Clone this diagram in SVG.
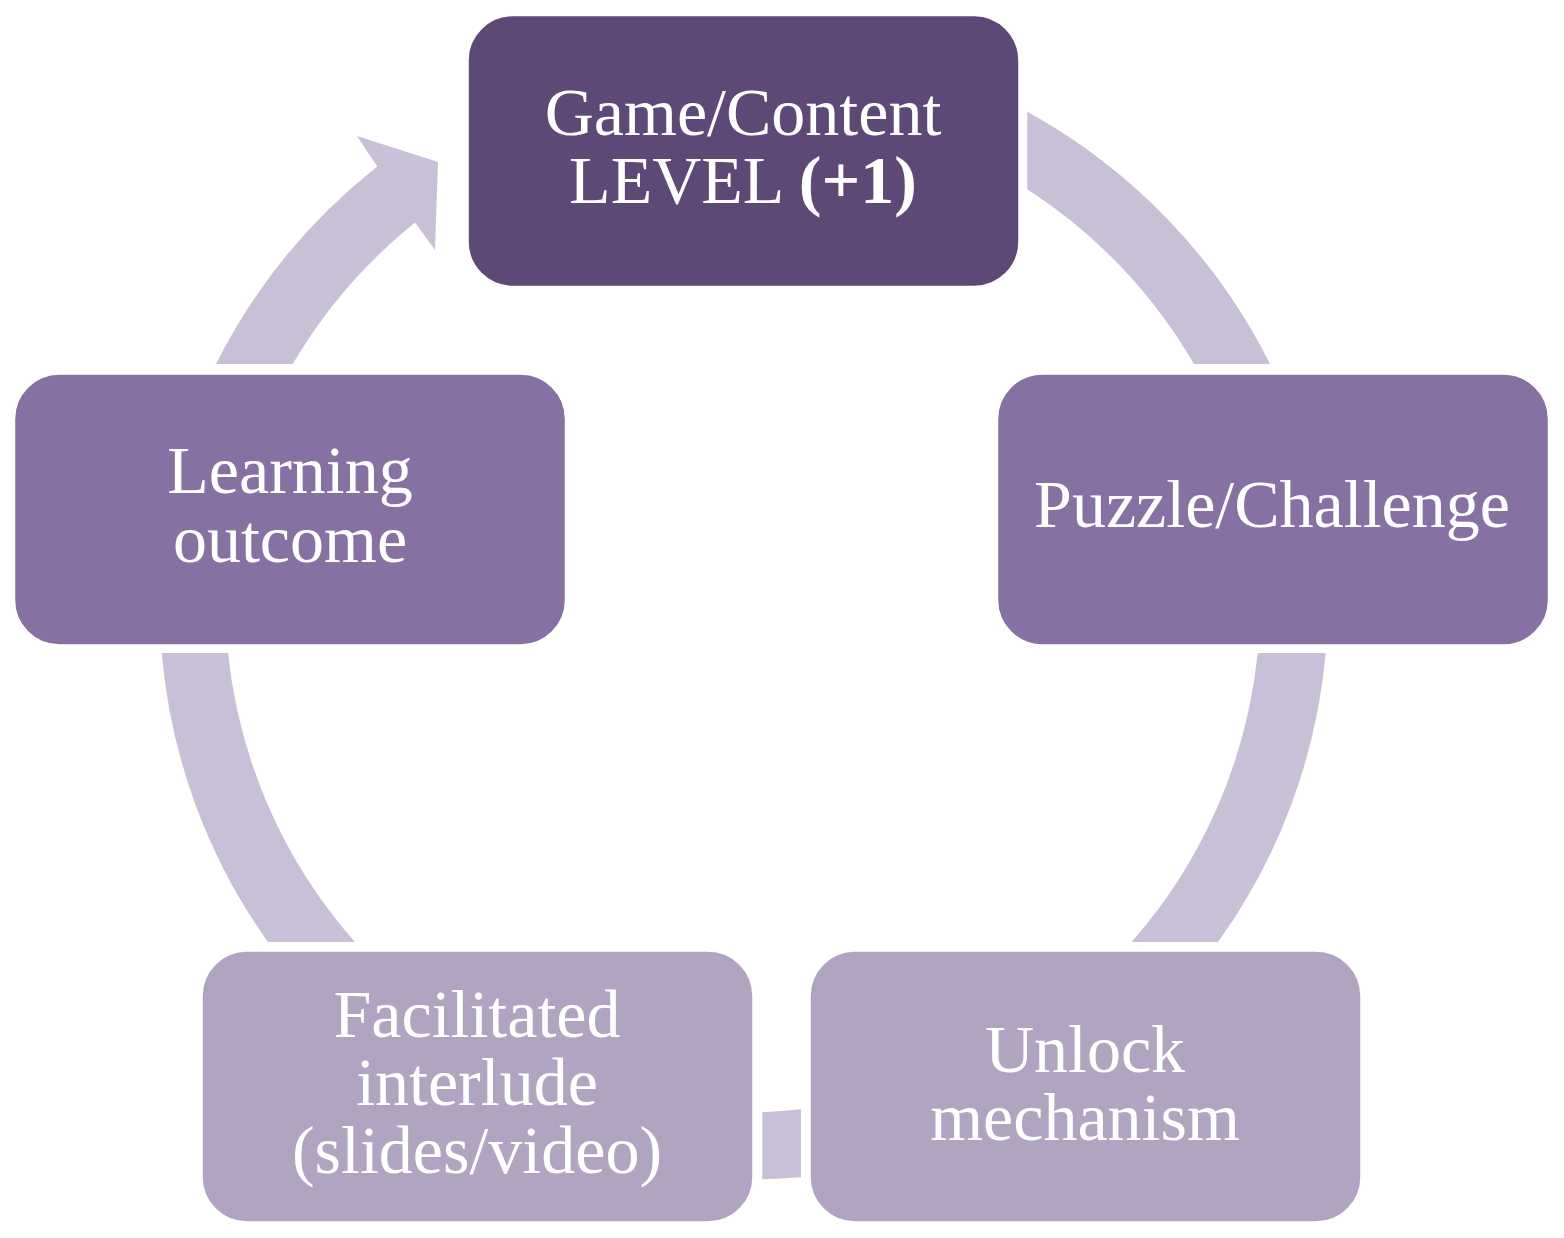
<svg xmlns="http://www.w3.org/2000/svg" width="1564" height="1238" viewBox="0 0 1564 1238">
  <style>
    .node rect { stroke: #ffffff; stroke-width: 1.5; }
    .dark { fill: #5D4876; }
    .mid { fill: #8771A3; }
    .light { fill: #B0A4C1; }
    .conn path { fill: #C7C0D6; stroke: none; }
    .label { font-family: "Liberation Serif", "Times New Roman", serif; font-size: 68px; fill: #ffffff; text-anchor: middle; }
  </style>
  <rect width="1564" height="1238" fill="#ffffff"/>
  <g id="connectors" class="conn">
    <path id="c-top-right" d="M1027.3,111.7 A588.5,588.5 0 0 1 1270,364 L1194,364 A521.4,521.4 0 0 0 1027.3,189.3 Z"/>
    <path id="c-right-bottom" d="M1325.7,653 A584.3,584.3 0 0 1 1218,942 L1131.7,942 A516.6,516.6 0 0 0 1257.7,653 Z"/>
    <path id="c-bottom" d="M762.3,1112.3 A511.5,511.5 0 0 0 801,1109.3 L801,1177.3 A579,579 0 0 1 762.3,1179.3 Z"/>
    <path id="c-left-bottom" d="M268,942 A584.5,584.5 0 0 1 161.7,653 L228,653 A517.5,517.5 0 0 0 355,942 Z"/>
    <path id="c-left-top" d="M216,364 A588.5,588.5 0 0 1 377.3,166.5 L357,136 L438,162 L435,250 L415,222.5 A521.4,521.4 0 0 0 292.7,364 Z"/>
  </g>
  <g id="node-game" class="node">
    <rect class="dark" x="468" y="15.5" width="551" height="271" rx="45" ry="45"/>
    <text class="label" x="743" y="135">Game/Content</text>
    <text class="label" x="743" y="203">LEVEL <tspan font-weight="bold">(+1)</tspan></text>
  </g>
  <g id="node-puzzle" class="node">
    <rect class="mid" x="997.5" y="374" width="551" height="271" rx="45" ry="45"/>
    <text class="label" x="1272" y="527">Puzzle/Challenge</text>
  </g>
  <g id="node-unlock" class="node">
    <rect class="light" x="810" y="951" width="551" height="271" rx="45" ry="45"/>
    <text class="label" x="1085" y="1072">Unlock</text>
    <text class="label" x="1085" y="1140">mechanism</text>
  </g>
  <g id="node-facilitated" class="node">
    <rect class="light" x="202" y="951" width="551" height="271" rx="45" ry="45"/>
    <text class="label" x="477" y="1037">Facilitated</text>
    <text class="label" x="477" y="1105">interlude</text>
    <text class="label" x="477" y="1173">(slides/video)</text>
  </g>
  <g id="node-learning" class="node">
    <rect class="mid" x="14.5" y="374" width="551" height="271" rx="45" ry="45"/>
    <text class="label" x="290" y="493">Learning</text>
    <text class="label" x="290" y="562">outcome</text>
  </g>
</svg>
